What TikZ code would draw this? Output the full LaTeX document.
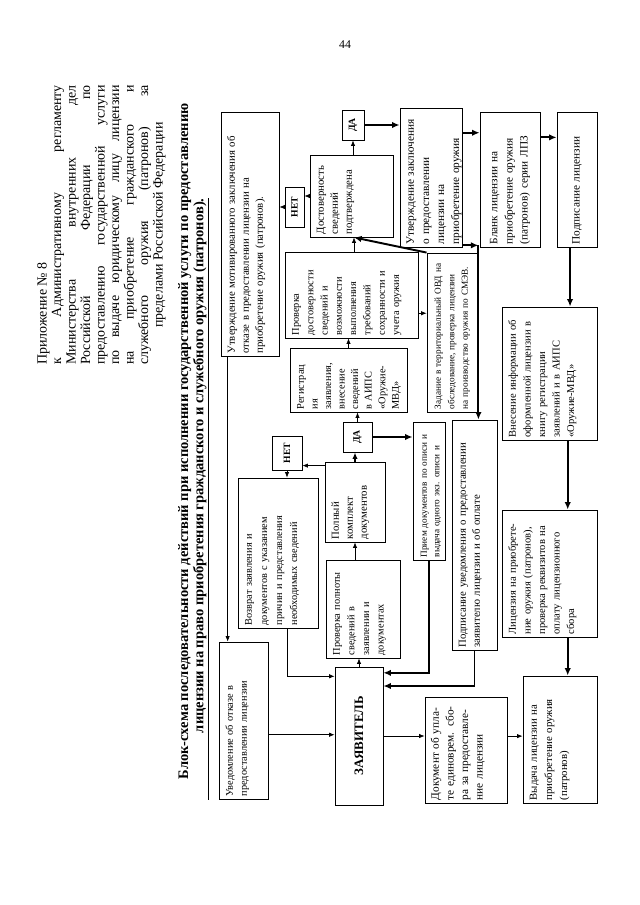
\documentclass[tikz,border=0pt]{standalone}
\usepackage{fontspec}
\setmainfont{Liberation Serif}
\usetikzlibrary{arrows.meta,calc}

\newcommand{\hdrline}[1]{\hbox to 260pt{\spaceskip=0.3em plus 1fil\relax #1}}

\tikzset{
  box/.style={draw, line width=0.8pt, rotate=90, inner xsep=2.5pt, inner ysep=4pt,
              align=left, font=\fontsize{9.6}{13}\selectfont},
  % box size in pixels of the page: reading length, depth; text sits at the top
  sz/.code 2 args={%
    \pgfmathsetmacro\bxw{#1*0.93}%
    \pgfmathsetmacro\bxh{#2*0.93}%
    \pgfmathsetmacro\bxt{#1*0.93-5}%
    \pgfmathsetmacro\bxd{#2*0.93-17}%
    \edef\bxopts{minimum width=\bxw pt, minimum height=\bxh pt,
      text width=\bxt pt, text height=9pt, text depth=\bxd pt}%
    \expandafter\pgfkeysalso\expandafter{\bxopts}},
  % same, text centred across the box
  csz/.code 2 args={%
    \pgfmathsetmacro\bxw{#1*0.93}%
    \pgfmathsetmacro\bxh{#2*0.93}%
    \pgfmathsetmacro\bxt{#1*0.93-5}%
    \edef\bxopts{minimum width=\bxw pt, minimum height=\bxh pt, text width=\bxt pt}%
    \expandafter\pgfkeysalso\expandafter{\bxopts}},
  tag/.style={box, align=center, inner sep=1pt, font=\bfseries\fontsize{9}{10}\selectfont},
  fs/.style 2 args={font=\fontsize{#1}{#2}\selectfont},
  ln/.style={-{Latex[length=5pt,width=4pt]}, line width=0.6pt},
  mln/.style={-{Latex[length=6pt,width=5pt]}, line width=1.2pt},
  bln/.style={-{Latex[length=7pt,width=6pt]}, line width=1.8pt},
}

\begin{document}
\begin{tikzpicture}[x=0.93pt, y=-0.93pt]
\useasboundingbox (0,0) rectangle (640,905);

% page number, heading
\node[fs={11}{13}] (pnum) at (345,45) {44};

\node[rotate=90, anchor=north west, inner sep=0pt, align=left,
      fs={13}{13.5}] (hdr) at (37,365) {%
  Приложение № 8\\
  \hdrline{к Административному регламенту}\\
  \hdrline{Министерства внутренних дел}\\
  \hdrline{Российской Федерации по}\\
  \hdrline{предоставлению государственной услуги}\\
  \hdrline{по выдаче юридическому лицу лицензии}\\
  \hdrline{на приобретение гражданского и}\\
  \hdrline{служебного оружия (патронов) за}\\
  \hbox to 260pt{\hfil пределами Российской Федерации\hfil}};

\node[rotate=90, anchor=north west, inner sep=0pt, align=left,
      font=\bfseries\fontsize{13.5}{14}\selectfont] (title) at (178,800) {%
  \hspace*{19pt}Блок-схема последовательности действий при исполнении государственной услуги по предоставлению\\
  \underline{\hspace*{62pt}лицензии на право приобретения гражданского и служебного оружия (патронов).}};

% refusal column
\node[box, sz={244}{58}, fs={10}{13}] (otkaz) at (250,234)
  {Утверждение мотивированного заключения об\\ отказе в предоставлении лицензии на\\ приобретение оружия (патронов).};
\node[box, sz={157}{49}] (uvedOtk) at (243.5,720.5)
  {Уведомление об отказе в\\ предоставлении лицензии};
\node[box, sz={150}{80}, fs={9.6}{14}] (vozvrat) at (278,553)
  {Возврат заявления и\\ документов с указанием\\ причин и представления\\ необходимых сведений};
\node[tag, csz={34}{30}] (net1) at (287,453) {НЕТ};

% applicant and intake
\node[box, csz={138}{48}, align=center, font=\bfseries\fontsize{12}{14}\selectfont] (zayav) at (359,736) {ЗАЯВИТЕЛЬ};
\node[box, sz={98}{74}, fs={9.6}{13.5}] (provPoln) at (363,609)
  {Проверка полноты\\ сведений в\\ заявлении и\\ документах};
\node[box, sz={80}{60}, fs={10}{13}] (polny) at (355,502)
  {Полный\\ комплект\\ документов};
\node[tag, csz={30}{29}] (da1) at (357.5,437) {ДА};
\node[box, sz={64}{117}, fs={9.6}{12.6}] (registr) at (348.5,380)
  {Регистрац\\ ия\\ заявления,\\ внесение\\ сведений\\ в АИПС\\ «Оружие-\\ МВД»};
\node[box, sz={86}{133}, fs={9.6}{13.3}] (provDost) at (351.5,295)
  {Проверка\\ достоверности\\ сведений и\\ возможности\\ выполнения\\ требований\\ сохранности и\\ учета оружия};
\node[box, sz={82}{83}, fs={10}{13}] (dostov) at (351.5,196)
  {Достоверность\\ сведений\\ подтверждена};
\node[tag, csz={40}{19}] (net2) at (294.5,207) {НЕТ};
\node[tag, csz={30}{22}] (da2) at (353,125) {ДА};

% licence issue
\node[box, sz={139}{62}, fs={10.5}{14}] (utvZakl) at (431,177.5)
  {Утверждение заключения\\ о предоставлении\\ лицензии на\\ приобретение оружия};
\node[box, csz={135}{60}, fs={10.5}{14}] (blank) at (510,179.5)
  {Бланк лицензии на\\ приобретение оружия\\ (патронов) серии ЛПЗ};
\node[box, csz={135}{40}, fs={10.5}{13}] (podpLic) at (577,179.5) {Подписание лицензии};
\node[box, sz={159}{51}, fs={8.6}{12.5}] (zadanie) at (452.5,332.5)
  {Задание в территориальный ОВД на\\ обследование, проверка лицензии\\ на производство оружия по СМЭВ.};
\node[box, sz={138}{32}, fs={8.6}{11.5}] (priem) at (429,491)
  {Прием документов по описи и\\ выдача одного экз. описи и};
\node[box, sz={230}{45}, fs={10}{13}] (podpUv) at (474.5,535)
  {Подписание уведомления о предоставлении\\ заявителю лицензии и об оплате};
\node[box, sz={133}{95}, fs={9.8}{13.5}] (vnesenie) at (549.5,373.5)
  {Внесение информации об\\ оформленной лицензии в\\ книгу регистрации\\ заявлений и в АИПС\\ «Оружие-МВД»};
\node[box, sz={127}{95}, fs={9.8}{13.5}] (licenz) at (549.5,573.5)
  {Лицензия на приобрете-\\ ние оружия (патронов),\\ проверка реквизитов на\\ оплату лицензионного\\ сбора};
\node[box, sz={127}{74}, fs={10}{14}] (vydacha) at (560,739.5)
  {Выдача лицензии на\\ приобретение оружия\\ (патронов)};
\node[box, sz={106}{82}, fs={10.5}{13.5}] (dokument) at (466,750)
  {Документ об упла-\\ те единоврем. сбо-\\ ра за предоставле-\\ ние лицензии};

% points on box edges
\coordinate (o1) at ($(otkaz.north west)!0.12!(otkaz.south west)$);
\coordinate (v1) at ($(vozvrat.north west)!0.61!(vozvrat.south west)$);
\coordinate (z1) at ($(zayav.north east)!0.07!(zayav.north west)$);
\coordinate (u1) at ($(uvedOtk.south east)!0.59!(uvedOtk.south west)$);
\coordinate (p1) at ($(polny.north east)!0.05!(polny.north west)$);
\coordinate (d1) at ($(provDost.south east)!0.71!(provDost.south west)$);
\coordinate (s1) at ($(dostov.north west)!0.53!(dostov.south west)$);
\coordinate (t1) at ($(utvZakl.south east)!0.18!(utvZakl.south west)$);
\coordinate (t2) at ($(utvZakl.south east)!0.985!(utvZakl.south west)$);
\coordinate (b1) at ($(blank.south east)!0.19!(blank.south west)$);
\coordinate (l1) at ($(podpLic.north west)!0.33!(podpLic.south west)$);
\coordinate (n1) at ($(vnesenie.north west)!0.69!(vnesenie.south west)$);
\coordinate (n2) at ($(licenz.north west)!0.69!(licenz.south west)$);
\coordinate (z2) at ($(zayav.south east)!0.045!(zayav.south west)$);
\coordinate (z3) at ($(zayav.south east)!0.14!(zayav.south west)$);
\coordinate (k1) at ($(dokument.south east)!0.37!(dokument.south west)$);

% connectors
\draw[ln] (o1) -- (o1 |- uvedOtk.east);
\draw[ln] (v1) |- (z1);
\draw[ln] (u1) -- (u1 -| zayav.north);
\draw[ln] (net1.west) -- (net1.west |- vozvrat.east);
\draw[ln] (p1) -- (p1 -| net1.south);
\draw[mln] (polny.east) -- (polny.east |- da1.west);
\draw[ln] (polny.west |- provPoln.east) -- (polny.west);
\draw[ln] (zayav.east) -- (zayav.east |- provPoln.west);
\draw[ln] (da1.east) -- (da1.east |- registr.west);
\draw[bln] (da1.south) -- (da1.south -| priem.north);
\draw[ln] (registr.east) -- (registr.east |- provDost.west);
\draw[ln] (s1 |- provDost.east) -- (s1);
\draw[ln] (d1) -- (d1 -| zadanie.north);
\draw[bln] (zadanie.north east) -- (s1);
\draw[ln] (dostov.north) -- (dostov.north -| net2.south);
\draw[ln] (net2.north) -- (net2.north -| otkaz.south);
\draw[ln] (da2.west |- dostov.east) -- (da2.west);
\draw[bln] (da2.south) -- (da2.south -| utvZakl.north);
\draw[bln] (t1) -- (t1 -| blank.north);
\draw[bln] (b1) -- (b1 -| podpLic.north);
\draw[bln] (l1) -- (l1 |- vnesenie.east);
\draw[bln] (n1) -- (n1 |- licenz.east);
\draw[bln] (n2) -- (n2 |- vydacha.east);
\draw[bln] (t2) -- (t2 -| zadanie.south);
\draw[bln] (t2 -| zadanie.south) -- (zadanie.south |- podpUv.east);
\draw[bln] (priem.west) |- (z2);
\draw[bln] (podpUv.west) |- (z3);
\draw[ln] (zayav.south) -- (zayav.south -| dokument.north);
\draw[ln] (k1) -- (k1 -| vydacha.north);

\end{tikzpicture}
\end{document}
